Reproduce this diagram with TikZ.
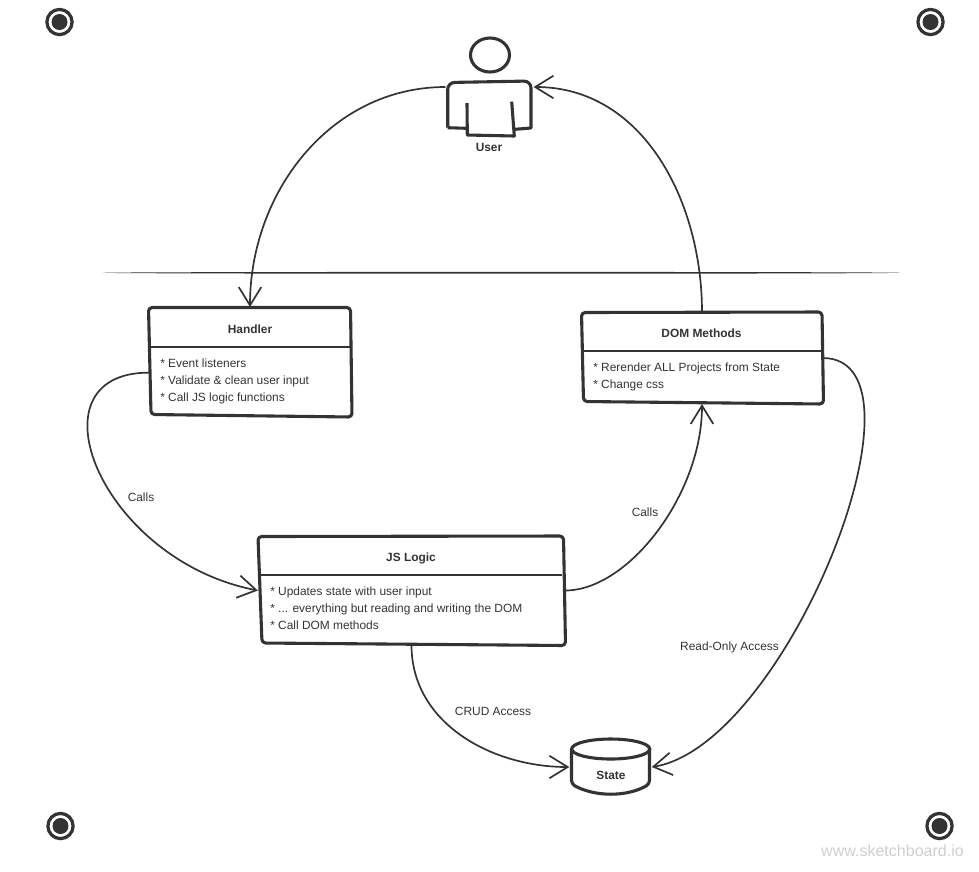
\documentclass[tikz,border=0pt]{standalone}
\usepackage{fontspec}
\setmainfont{Liberation Sans}
\usetikzlibrary{arrows.meta}
\definecolor{inkdark}{HTML}{333333}
\definecolor{inkgray}{HTML}{CFCFCF}

\begin{document}
\begin{tikzpicture}[x=0.025cm,y=-0.025cm]
\tikzset{
  anchorbox/.style={inner sep=0pt,outer sep=0pt,minimum width=#1},
  outline/.style={draw=inkdark,line width=2.2pt,rounded corners=2.6pt,line join=round},
  divider/.style={draw=inkdark,line width=1.4pt},
  directed/.style={-{Straight Barb[length=13pt,width=16pt,line width=1.2pt]},draw=inkdark,line width=1.2pt},
  title/.style={font=\fontsize{8.47}{10}\selectfont\bfseries,text=inkdark,inner sep=0pt},
  items/.style={font=\fontsize{8.47}{12.1}\selectfont,text=inkdark,align=left,anchor=west,inner sep=0pt},
  edgelabel/.style={font=\fontsize{8.47}{10}\selectfont,text=inkdark,inner sep=0pt},
  cornermark/.style={circle,draw=inkdark,line width=2.3pt,minimum size=0.63cm,inner sep=0pt,
    path picture={\fill[inkdark] (path picture bounding box.center) circle (8);}}
}
\useasboundingbox (0,0) rectangle (979,871);

\node[cornermark] (n_mark0) at (59.5,22) {};
\node[cornermark] (n_mark1) at (930.5,22) {};
\node[cornermark] (n_mark2) at (60.5,826) {};
\node[cornermark] (n_mark3) at (939.5,826) {};

\node[anchorbox=2.2cm,minimum height=2.45cm] (n_user) at (489.5,87) {};
\node[anchorbox=5.05cm,minimum height=2.75cm] (n_handler) at (250,362) {};
\node[anchorbox=6.03cm,minimum height=2.3cm] (n_dom) at (702,358) {};
\node[anchorbox=7.68cm,minimum height=2.73cm] (n_logic) at (411.5,590.5) {};
\node[anchorbox=2.06cm,minimum height=1.38cm] (n_state) at (610.5,767) {};

\draw[outline] (447.7,127.7) [rounded corners=5pt] -- (447.7,82.5) -- (531,81) [sharp corners] -- (531,128) -- (515,129.3);
\draw[outline,sharp corners] (447.7,127.7) -- (466.7,128.3);
\draw[outline,sharp corners] (467,103) -- (467.3,135) -- (514.3,136) -- (511.7,101.7);
\draw[draw=inkdark,line width=2.2pt] (490,55) ellipse (19.5 and 17);
\node[title] (n_user_label) at (489,147.5) {User};

\draw[outline] (148.5,307.5) -- (350.5,307.5) -- (352,417) -- (151,414.5) -- cycle;
\draw[divider] (150,346.7) -- (350,346.7);
\node[title] (n_handler_title) at (250,329.5) {Handler};
\node[items] (n_handler_items) at (160,381.5) {* Event listeners\\* Validate \& clean user input\\* Call JS logic functions};

\draw[outline] (581.5,312.5) -- (822,312) -- (823.5,404) -- (583.5,401.5) -- cycle;
\draw[divider] (583,351) -- (821,351);
\node[title] (n_dom_title) at (701.5,333.5) {DOM Methods};
\node[items] (n_dom_items) at (593,376.5) {* Rerender ALL Projects from State\\* Change css};

\draw[outline] (258,536.5) -- (563.5,536) -- (565.5,645.5) -- (262,643) -- cycle;
\draw[divider] (259,575) -- (562,575);
\node[title] (n_logic_title) at (411,558) {JS Logic};
\node[items] (n_logic_items) at (270,608.5) {* Updates state with user input\\* ... everything but reading and writing the DOM\\* Call DOM methods};

\draw[draw=inkdark,line width=2.2pt] (610.7,749) ellipse (39 and 10);
\draw[outline] (571.5,749) -- (571.5,784) .. controls (595,797) and (627,797) .. (649.5,784) -- (649.5,749);
\node[title] (n_state_label) at (611,775.5) {State};

\coordinate (n_rule_a) at (103,272.8);
\coordinate (n_rule_b) at (901,272.8);
\fill[inkdark] (n_rule_a) .. controls (140,271.6) and (860,271.6) .. (n_rule_b) .. controls (860,274) and (140,274) .. (n_rule_a);

\draw[directed] (n_user.west) to[out=180,in=90] (n_handler.north);
\draw[directed] (n_dom.north) to[out=90,in=0] (n_user.east);
\draw[directed] (n_handler.186) to[out=180,in=169,out looseness=1.29,in looseness=1.68] (n_logic.west);
\draw[directed] (n_logic.east) to[out=0,in=270,out looseness=0.7] (n_dom.south);
\draw[directed] (n_logic.south) to[out=270,in=180] (n_state.west);
\draw[directed] (n_dom.east) to[out=0,in=9,out looseness=0.68,in looseness=0.79] (n_state.east);

\node[edgelabel] (n_calls_left) at (141,497.5) {Calls};
\node[edgelabel] (n_calls_right) at (645,512.5) {Calls};
\node[edgelabel] (n_crud) at (493,711.5) {CRUD Access};
\node[edgelabel] (n_readonly) at (729.5,647) {Read-Only Access};
\node[font=\fontsize{11.4}{13}\selectfont,text=inkgray,inner sep=0pt] (n_brand) at (892.5,850.5) {www.sketchboard.io};
\end{tikzpicture}
\end{document}
